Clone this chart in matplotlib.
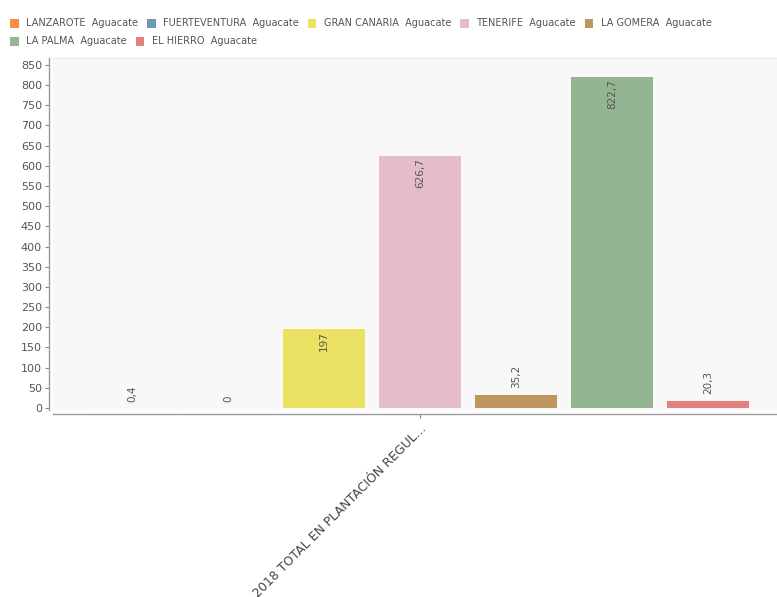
import numpy as np
import matplotlib
matplotlib.use('Agg')
import matplotlib.pyplot as plt
from matplotlib.patches import Rectangle

# 数据
islas = ["LANZAROTE", "FUERTEVENTURA", "GRAN CANARIA", "TENERIFE",
         "LA GOMERA", "LA PALMA", "EL HIERRO"]
cultivo = "Aguacate"
valores = [0.4, 0.0, 197.0, 626.7, 35.2, 822.7, 20.3]
categoria = "2018 TOTAL EN PLANTACIÓN REGUL..."
colores = ["#f98d45", "#6e98b4", "#ebe163", "#e5bccb",
           "#c0965f", "#94b592", "#e4807f"]

W, H = 777, 597
fig = plt.figure(figsize=(W / 100, H / 100), dpi=100)
plt.rcParams['font.family'] = ['DejaVu Sans']

# 绘图区
ax = fig.add_axes([53 / W, 1 - 410 / H, 724 / W, 352 / H])
ax.set_facecolor("#f8f8f8")

# 轴线先设置（set_position 会重置刻度）
for s in ["top", "right"]:
    ax.spines[s].set_color("#ebebeb")
    ax.spines[s].set_linewidth(0.8)
for s in ["left", "bottom"]:
    ax.spines[s].set_position(("outward", 3))
    ax.spines[s].set_color("#999999")
    ax.spines[s].set_linewidth(1.0)

n = len(valores)
offs = np.arange(n) - (n - 1) / 2
ancho = 0.865
ax.bar(offs, valores, width=ancho, color=colores, edgecolor="white", linewidth=0.6)

ax.set_xlim(-3.823, 3.72)
ax.set_ylim(-5, 867)
ax.set_yticks(np.arange(0, 851, 50))
ax.set_xticks([0])
ax.tick_params(axis="y", labelsize=8, labelcolor="#555555", color="#888888",
               length=3, width=0.8, pad=2)
ax.tick_params(axis="x", color="#888888", length=3, width=0.8, pad=3)
ax.set_xticklabels([categoria])
plt.setp(ax.get_xticklabels(), rotation=45, ha="right", rotation_mode="anchor",
         fontsize=9, color="#444444")

# 数值标签（竖排）
px_per_unit = 352 / (867 + 5)
for x, v in zip(offs, valores):
    txt = f"{v:g}".replace(".", ",")
    if v * px_per_unit > 40:
        ax.annotate(txt, (x, v), xytext=(0, -2), textcoords="offset points",
                    rotation=90, ha="center", va="top", fontsize=7.5, color="#555555")
    else:
        ax.annotate(txt, (x, v), xytext=(0, 4), textcoords="offset points",
                    rotation=90, ha="center", va="bottom", fontsize=7.5, color="#555555")

# 图例（两行，手动排布）
fig.canvas.draw()
r = fig.canvas.get_renderer()
filas = [range(0, 5), range(5, 7)]
y_fila = [23, 41]
for fila, yc in zip(filas, y_fila):
    xpx = 10
    for i in fila:
        fig.patches.append(Rectangle((xpx / W, 1 - (yc + 4.5) / H), 8.5 / W, 8.5 / H,
                                     transform=fig.transFigure, facecolor=colores[i],
                                     edgecolor="none"))
        t = fig.text((xpx + 16) / W, 1 - yc / H, f"{islas[i]}  {cultivo}",
                     fontsize=7, color="#555555", va="center", ha="left")
        bb = t.get_window_extent(renderer=r)
        xpx = xpx + 16 + bb.width + 9

fig.savefig("out.png", dpi=100)
